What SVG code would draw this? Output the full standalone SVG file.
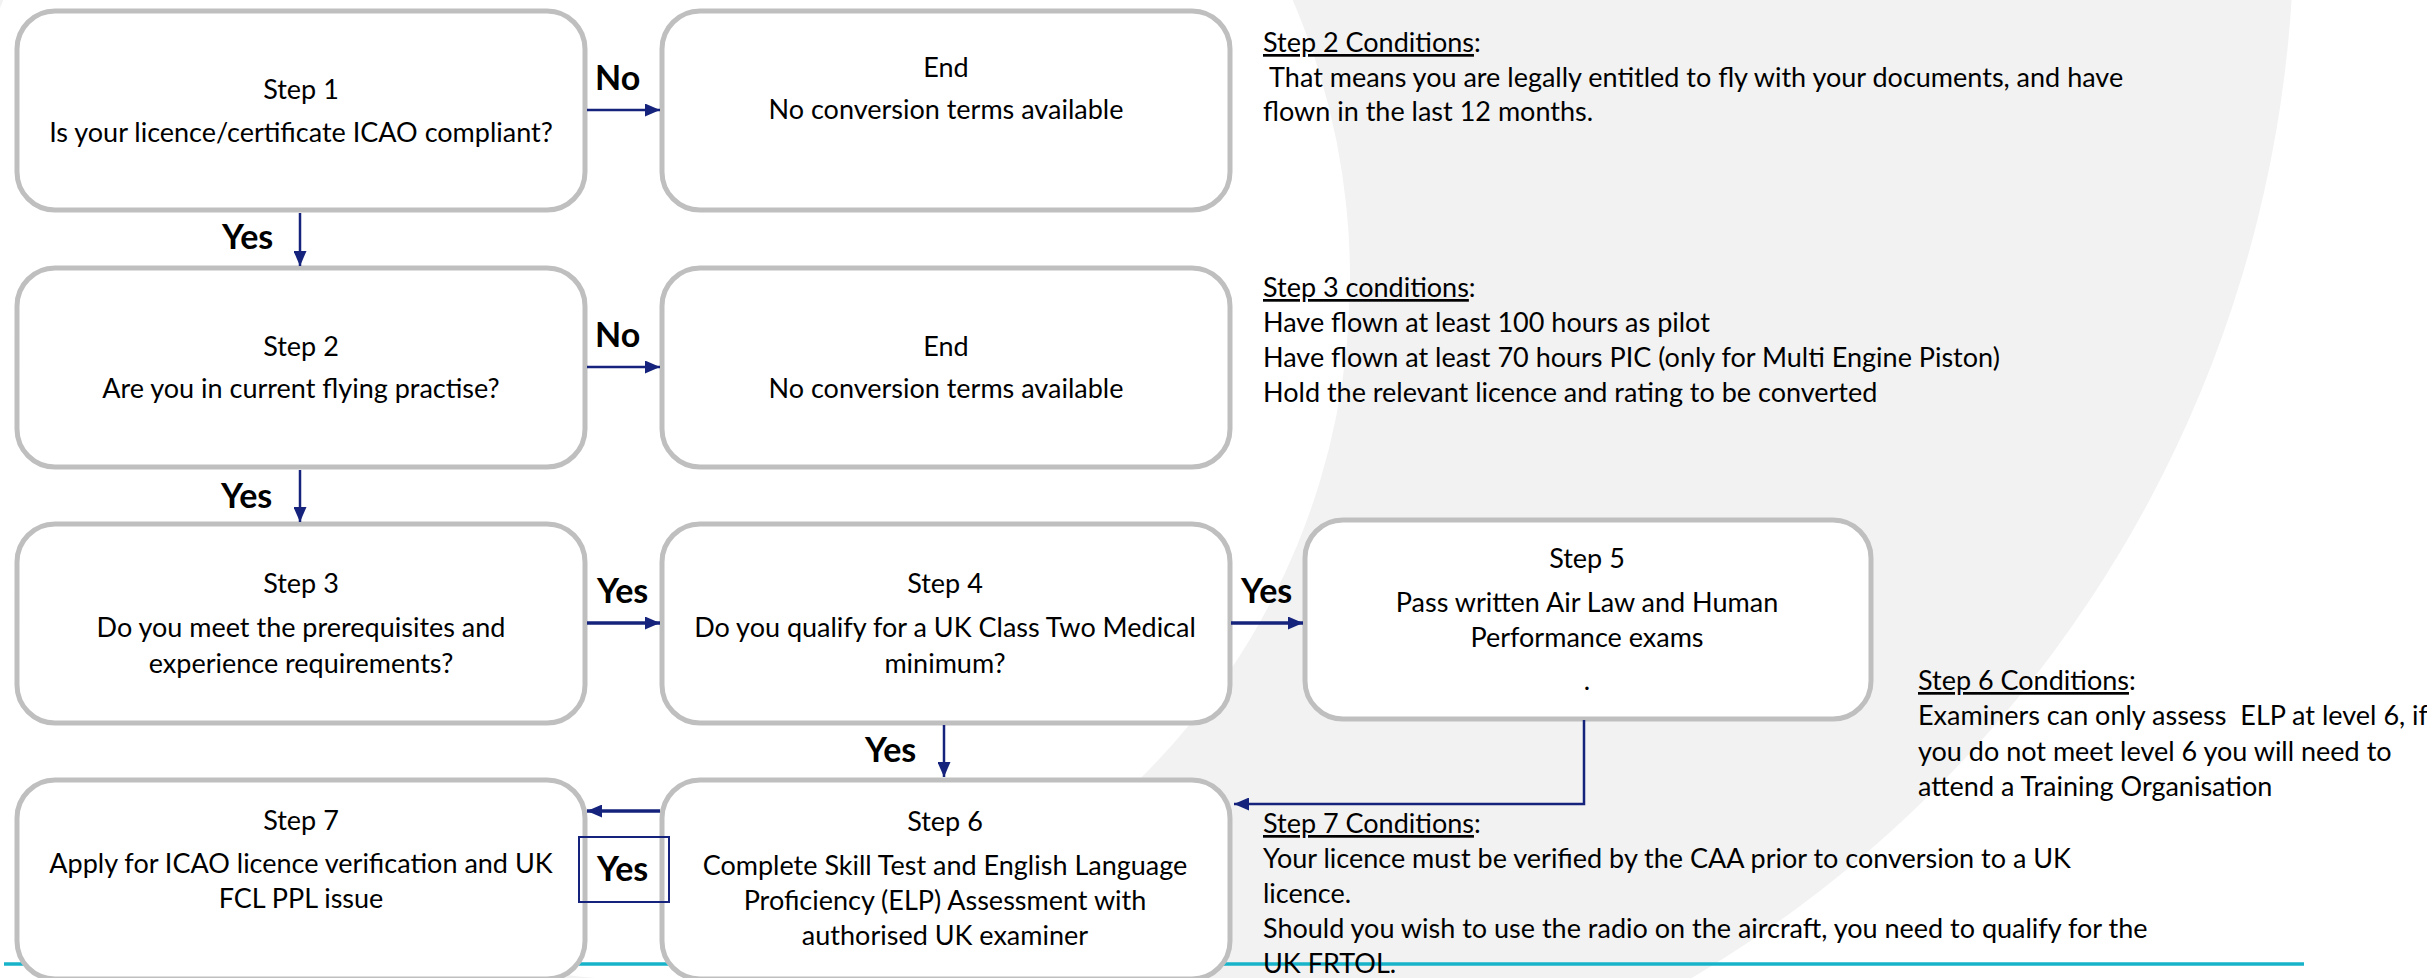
<svg xmlns="http://www.w3.org/2000/svg" width="2427" height="978" viewBox="0 0 2427 978">
<style>
.box{fill:#fff;stroke:#bfbfbf;stroke-width:5}
.t{font-family:Lato,'Open Sans',sans-serif;font-size:27px;fill:#000}
.c{text-anchor:middle}
.lbl{font-family:Lato,'Open Sans',sans-serif;font-size:34px;font-weight:700;fill:#000}
.ar{stroke:#15237d;stroke-width:2.5;fill:none;marker-end:url(#ah)}
.u{text-decoration:underline}
</style>
<defs>
<marker id="ah" markerUnits="userSpaceOnUse" markerWidth="15" markerHeight="13" viewBox="0 0 15 13" refX="15" refY="6.5" orient="auto">
<path d="M0,0 L15,6.5 L0,13 z" fill="#15237d"/>
</marker>
</defs>
<rect width="2427" height="978" fill="#fff"/>
<g id="background">
<circle cx="1069" cy="-77" r="1225" fill="#f2f2f2"/>
<circle cx="648" cy="278" r="702" fill="#fff"/>
<line x1="4" y1="964" x2="2304" y2="964" stroke="#17b3c9" stroke-width="3.5"/>
</g>
<g id="step1"><rect class="box" x="17" y="11" width="568" height="199" rx="38"/>
<text class="t c" x="301" y="99">Step 1</text><text class="t c" x="301" y="142">Is your licence/certificate ICAO compliant?</text></g>
<g id="end1"><rect class="box" x="662" y="11" width="568" height="199" rx="38"/>
<text class="t c" x="946" y="77">End</text><text class="t c" x="946" y="119">No conversion terms available</text></g>
<g id="step2"><rect class="box" x="17" y="268" width="568" height="199" rx="38"/>
<text class="t c" x="301" y="356">Step 2</text><text class="t c" x="301" y="398">Are you in current flying practise?</text></g>
<g id="end2"><rect class="box" x="662" y="268" width="568" height="199" rx="38"/>
<text class="t c" x="946" y="356">End</text><text class="t c" x="946" y="398">No conversion terms available</text></g>
<g id="step3"><rect class="box" x="17" y="524" width="568" height="199" rx="38"/>
<text class="t c" x="301" y="593">Step 3</text><text class="t c" x="301" y="637">Do you meet the prerequisites and</text><text class="t c" x="301" y="673">experience requirements?</text></g>
<g id="step4"><rect class="box" x="662" y="524" width="568" height="199" rx="38"/>
<text class="t c" x="945" y="593">Step 4</text><text class="t c" x="945" y="637">Do you qualify for a UK Class Two Medical</text><text class="t c" x="945" y="673">minimum?</text></g>
<g id="step5"><rect class="box" x="1305" y="520" width="566" height="199" rx="38"/>
<text class="t c" x="1587" y="568">Step 5</text><text class="t c" x="1587" y="612">Pass written Air Law and Human</text><text class="t c" x="1587" y="647">Performance exams</text><text class="t c" x="1587" y="690">.</text></g>
<g id="step7"><rect class="box" x="17" y="780" width="568" height="199" rx="38"/>
<text class="t c" x="301" y="830">Step 7</text><text class="t c" x="301" y="873">Apply for ICAO licence verification and UK</text><text class="t c" x="301" y="908">FCL PPL issue</text></g>
<g id="step6"><rect class="box" x="662" y="780" width="568" height="199" rx="38"/>
<text class="t c" x="945" y="831">Step 6</text><text class="t c" x="945" y="875">Complete Skill Test and English Language</text><text class="t c" x="945" y="910">Proficiency (ELP) Assessment with</text><text class="t c" x="945" y="945">authorised UK examiner</text></g>
<g id="connectors">
<path class="ar" d="M587,110 H660"/>
<path class="ar" d="M300,213 V266"/>
<path class="ar" d="M587,367 H660"/>
<path class="ar" d="M300,470 V522"/>
<path class="ar" d="M587,623 H660" style="stroke-width:3.5"/>
<path class="ar" d="M1231,623 H1303" style="stroke-width:3.5"/>
<path class="ar" d="M944,725 V777"/>
<path class="ar" d="M660,811 H587" style="stroke-width:3.5"/>
<path class="ar" d="M1584,720 V804 H1234"/>
<text class="lbl" x="595" y="90">No</text>
<text class="lbl" x="595" y="347">No</text>
<text class="lbl" x="222" y="249">Yes</text>
<text class="lbl" x="221" y="508">Yes</text>
<text class="lbl" x="597" y="603">Yes</text>
<text class="lbl" x="1241" y="603">Yes</text>
<text class="lbl" x="865" y="762">Yes</text>
<rect x="579" y="837" width="90" height="65" fill="none" stroke="#15237d" stroke-width="2"/>
<text class="lbl" x="597" y="881">Yes</text>
</g>
<g id="notes">
<text class="t" x="1263" y="52"><tspan class="u">Step 2 Conditions</tspan>:</text>
<text class="t" x="1263" y="87" xml:space="preserve"> That means you are legally entitled to fly with your documents, and have</text>
<text class="t" x="1263" y="121">flown in the last 12 months.</text>
<text class="t" x="1263" y="297"><tspan class="u">Step 3 conditions</tspan>:</text>
<text class="t" x="1263" y="332">Have flown at least 100 hours as pilot</text>
<text class="t" x="1263" y="367">Have flown at least 70 hours PIC (only for Multi Engine Piston)</text>
<text class="t" x="1263" y="402">Hold the relevant licence and rating to be converted</text>
<text class="t" x="1918" y="690"><tspan class="u">Step 6 Conditions</tspan>:</text>
<text class="t" x="1918" y="725" xml:space="preserve">Examiners can only assess  ELP at level 6, if</text>
<text class="t" x="1918" y="761">you do not meet level 6 you will need to</text>
<text class="t" x="1918" y="796">attend a Training Organisation</text>
<text class="t" x="1263" y="833"><tspan class="u">Step 7 Conditions</tspan>:</text>
<text class="t" x="1263" y="868">Your licence must be verified by the CAA prior to conversion to a UK</text>
<text class="t" x="1263" y="903">licence.</text>
<text class="t" x="1263" y="938">Should you wish to use the radio on the aircraft, you need to qualify for the</text>
<text class="t" x="1263" y="973">UK FRTOL.</text>
</g>
</svg>
